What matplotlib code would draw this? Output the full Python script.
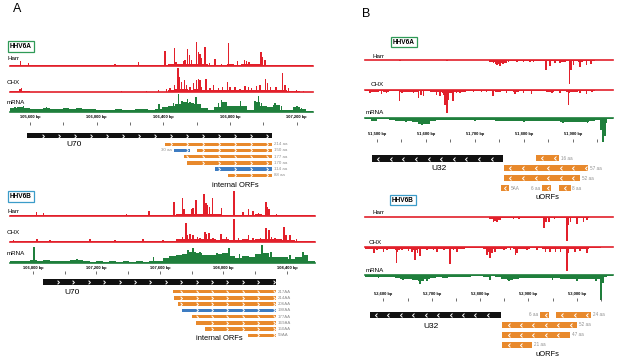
import numpy as np
import matplotlib.pyplot as plt
from matplotlib.path import Path

plt.rcParams['font.family'] = ['Liberation Sans', 'DejaVu Sans']

RED = '#e2202b'
GREEN = '#1f7f3c'
ORANGE = '#e8892c'
BLUE = '#3d7cc2'
GREY = '#8f8f8f'
W, H = 617, 360

# ---------------- panel A, HHV6A (U70) ----------------
a6a_lim = (105480, 107298)
a6a_ticks = [105600, 105800, 106000, 106200, 106400, 106600, 106800, 107000, 107200]
a6a_ticklabels = ['105,600 bp', '', '106,000 bp', '', '106,400 bp', '', '106,800 bp', '', '107,200 bp']

a6a_harr_bins = [0.4, 0.4, 0.4, 0.4, 0.4, 0.4, 0.4, 0.4, 0.4, 0.4, 0.4, 0.4, 0.4, 0.4, 0.4, 0.4,
                 0.4, 0.4, 0.4, 0.4, 0.4, 0.4, 0.4, 0.8, 1.5, 1.5, 2, 2, 2, 1.5, 1, 1, 1, 1.2,
                 1, 1.2, 1.5, 1.5, 1, 0.5, 0.4, 0.4, 0.4, 0.4, 0.4, 0.4]
a6a_harr_pos = [105544, 105590, 106110, 106250, 106410, 106466, 106475, 106520, 106530, 106544,
                106556, 106570, 106600, 106610, 106620, 106626, 106650, 106676, 106710, 106750,
                106790, 106844, 106886, 106900, 106914, 106938, 106986, 106996, 107010, 107126]
a6a_harr_h = [5, 2.3, 1.7, 3.3, 14.3, 17.3, 4, 5, 5.7, 17, 11, 6, 23.3, 14, 12, 8, 19, 2.3, 6.7,
              1.7, 22.3, 4.3, 5.7, 4.3, 3.3, 1.7, 13.3, 9, 5.7, 1]

a6a_chx_bins = [1, 1.2, 1, 0.6, 0.8, 0.5, 0.6, 0.6, 0.8, 0.6, 0.5, 0.6, 0.7, 0.6, 0.6, 0.5, 0.6,
                0.8, 0.6, 0.6, 0.5, 0.6, 0.7, 0.6, 2, 3, 3, 2.5, 3, 2.5, 2, 2.5, 2, 2.5, 2, 2.5,
                2, 2.5, 2.5, 2, 2.5, 2, 1.5, 1, 0.8, 0.6]
a6a_chx_pos = [105515, 105540, 105548, 106150, 106300, 106370, 106420, 106440, 106466, 106488,
               106496, 106510, 106526, 106540, 106560, 106580, 106600, 106610, 106620, 106630,
               106656, 106680, 106700, 106730, 106756, 106786, 106800, 106830, 106860, 106890,
               106910, 106930, 106960, 106980, 107014, 107024, 107044, 107076, 107116, 107130,
               107150, 107200, 107240]
a6a_chx_h = [1.5, 3, 4, 1, 1, 2, 3, 4, 7, 24, 15.7, 10.7, 12, 7, 5.7, 9, 12, 13, 12, 5.7, 13, 4,
             7.3, 4, 5, 10.7, 5.7, 5, 3, 6.3, 5.7, 4, 6.3, 7.3, 13, 9, 5.7, 5, 19.7, 7.3, 4,
             2.3, 1.3]

a6a_rna_bins = [4, 4.5, 3.5, 3, 3, 3.5, 2.5, 3, 3.5, 3, 3.5, 3, 2.5, 2, 2, 2, 2.5, 2, 2, 2.5,
                2.5, 2, 3, 5, 6, 8, 10, 9, 8, 4, 2, 5, 10, 6, 6, 6, 2, 10, 6, 5, 7, 2, 1.5, 5,
                3, 1]
a6a_rna_pos = [105510, 105560, 105700, 105880, 106374, 106460, 106490, 106512, 106544, 106560,
               106596, 106620, 106730, 106750, 106780, 106864, 106950, 106970, 106990, 107070,
               107110, 107202, 107230]
a6a_rna_h = [5, 6, 5, 4, 7.7, 9, 17.7, 11, 12.3, 10, 14.3, 8, 9, 11.7, 8, 11, 11, 15.7, 9, 8.3,
             6, 5.7, 4]

a6a_gene = (105582, 107052)
a6a_orf_start = [106410, 106464, 106602, 106521, 106542, 106710, 106788]
a6a_orf_end = [107052, 106560, 107052, 107052, 107052, 107052, 107052]
a6a_orf_row = [0, 1, 1, 2, 3, 4, 5]
a6a_orf_blue = [False, True, False, False, False, True, False]
a6a_orf_len = ['214 aa', '30 aa', '150 aa', '177 aa', '170 aa', '114 aa', '88 aa']
a6a_orf_left = [False, True, False, False, False, False, False]

# ---------------- panel A, HHV6B (U70) ----------------
a6b_lim = (106655, 108577)
a6b_ticks = [106800, 107000, 107200, 107400, 107600, 107800, 108000, 108200, 108400]
a6b_ticklabels = ['106,800 bp', '', '107,200 bp', '', '107,600 bp', '', '108,000 bp', '', '108,400 bp']

a6b_harr_bins = [0.4, 0.4, 0.4, 0.4, 0.4, 0.4, 0.4, 0.4, 0.4, 0.4, 0.4, 0.4, 0.4, 0.4, 0.4, 0.4,
                 0.4, 0.4, 0.4, 0.4, 0.4, 0.4, 0.4, 0.4, 0.8, 1.5, 2, 1.5, 2, 2, 1.5, 1.5, 1.2,
                 1, 1.2, 1, 1, 1.5, 1.2, 0.8, 0.4, 0.4, 0.4, 0.4, 0.4, 0.4]
a6b_harr_pos = [106823, 106865, 107390, 107531, 107690, 107743, 107753, 107800, 107810, 107827,
                107879, 107890, 107898, 107911, 107932, 107989, 108068, 108125, 108157, 108188,
                108220, 108268, 108278, 108289, 108335, 108482]
a6b_harr_h = [4, 2.3, 1.3, 4.7, 14, 18, 7, 6.7, 7.3, 15.7, 21.3, 12.3, 10.7, 9, 18, 8, 24.7, 4,
              6.7, 4.7, 2.3, 13.3, 9, 6.7, 1.3, 0.7]

a6b_chx_bins = [0.7, 0.8, 0.6, 0.7, 0.9, 0.6, 0.7, 0.7, 0.6, 0.8, 0.7, 0.6, 0.7, 0.8, 0.6, 0.7,
                0.7, 0.6, 0.8, 0.7, 0.6, 0.7, 0.8, 0.7, 0.9, 2.5, 3, 3, 2.5, 3, 2.5, 2, 2.5, 2,
                2, 2.5, 2, 2.5, 3, 2.5, 2.5, 2, 1.5, 1, 0.8, 0.6]
a6b_chx_pos = [106676, 106827, 106907, 107159, 107317, 107495, 107621, 107743, 107764, 107774,
               107789, 107810, 107837, 107852, 107884, 107894, 107909, 107936, 107984, 108020,
               108068, 108094, 108157, 108188, 108234, 108268, 108289, 108304, 108325, 108383,
               108394, 108419, 108461, 108524]
a6b_chx_h = [1.7, 2.3, 1.3, 2.7, 1.7, 2.7, 1.7, 5, 18.3, 6.7, 7.3, 6.7, 5, 4, 10, 7.3, 8.3, 4,
             7.3, 5, 22.3, 3.3, 6.7, 4, 4, 13.3, 11.7, 5, 3.3, 15, 6.7, 6.7, 2.3, 1]

a6b_rna_bins = [2.5, 2.5, 2, 3, 2.5, 3, 2.5, 2, 2.5, 3.5, 3, 2, 1.5, 2, 1.5, 2, 1.5, 2, 1.5, 2,
                1.5, 2, 2, 5, 7, 8, 9, 11, 10, 8, 8, 9, 10, 7, 5, 7, 6, 9, 10, 6, 6, 6, 4, 6,
                8, 2]
a6b_rna_pos = [106808, 107077, 107560, 107777, 107808, 107852, 107959, 108035, 108100, 108243,
               108300, 108420, 108501]
a6b_rna_h = [16, 4.3, 6, 13.3, 15, 11.7, 10, 15, 9, 18.3, 11, 8, 11.7]

a6b_gene = (106863, 108331)
a6b_orf_start = [107680, 107689, 107713, 107737, 107800, 107824, 107881, 108154]
a6b_orf_end = [108331, 108331, 108331, 108331, 108331, 108331, 108331, 108331]
a6b_orf_row = [0, 1, 2, 3, 4, 5, 6, 7]
a6b_orf_blue = [False, False, False, True, False, False, False, False]
a6b_orf_len = ['217AA', '214AA', '206AA', '198AA', '177AA', '169AA', '150AA', '59AA']
a6b_orf_left = [False] * 8

# ---------------- panel B, HHV6A (U32) ----------------
b6a_lim = (51476, 51982)
b6a_ticks = [51500, 51550, 51600, 51650, 51700, 51750, 51800, 51850, 51900, 51950]
b6a_ticklabels = ['51,500 bp', '', '51,600 bp', '', '51,700 bp', '', '51,800 bp', '', '51,900 bp', '']

b6a_harr_bins = [0.3, 0.3, 0.3, 0.3, 0.3, 0.3, 0.3, 0.3, 0.3, 0.3, 0.3, 0.3, 0.3, 0.3, 0.3, 0.3,
                 0.3, 0.3, 0.3, 0.3, 0.3, 1.5, 3.5, 3, 1, 0.8, 1, 0.8, 0.8, 1, 0.8, 0.8, 1, 1.5,
                 1.2, 1, 1.5, 1, 1, 0.3, 0.3, 0.3]
b6a_harr_pos = [51548, 51643, 51738, 51745, 51752, 51758, 51769, 51786, 51799, 51813, 51820,
                51845, 51854, 51864, 51874, 51893, 51896, 51901, 51915, 51928, 51937]
b6a_harr_h = [1, 1, 3.3, 5, 6, 4, 2, 1.7, 2.3, 2, 1.7, 10, 6, 2.7, 2.7, 24, 10, 5, 7.3, 5, 4]

b6a_chx_bins = [1.5, 2, 1.5, 2, 1.5, 1.2, 2, 2.5, 2, 1.5, 1.5, 2, 2.5, 3, 3, 2.5, 2, 1.5, 1.2,
                1.2, 1.5, 1.5, 2, 1.5, 1.5, 2, 1.5, 1.5, 1.5, 1.2, 1.5, 2, 1.5, 1.5, 2, 2, 1.5,
                1.5, 1.2, 0.6, 0.5, 0.5]
b6a_chx_pos = [51486, 51503, 51510, 51520, 51546, 51551, 51575, 51585, 51590, 51595, 51622,
               51629, 51636, 51639, 51643, 51646, 51656, 51663, 51670, 51680, 51697, 51714,
               51724, 51737, 51745, 51765, 51782, 51799, 51816, 51847, 51857, 51874, 51891,
               51893, 51901, 51915, 51928, 51939]
b6a_chx_h = [3.3, 2.7, 4, 3.3, 11, 3.3, 3.3, 8.3, 5, 6.7, 5, 6.7, 5, 15, 23.3, 10, 11.7, 3.3,
             3.3, 2.7, 2.7, 2.7, 2.7, 6.7, 2.7, 3.3, 4.3, 3.3, 4.3, 2.7, 3.3, 3.3, 15, 3.3, 2.7,
             3.3, 4.3, 2.7]

b6a_rna_bins = [1.7, 3, 1.7, 1.5, 2, 3, 3, 3, 4, 6, 6, 3, 2.3, 2, 2.5, 2, 2, 2.5, 2, 2, 2.5, 2,
                3, 3, 3, 3.5, 3, 3, 3.5, 3, 3, 3.5, 3, 4, 4, 4.5, 4, 4, 3.5, 2.5, 5, 1]
b6a_rna_pos = [51490, 51560, 51588, 51592, 51600, 51700, 51800, 51880, 51930, 51958, 51962, 51966]
b6a_rna_h = [3, 4.5, 6, 7.3, 5.5, 3.5, 4.5, 5, 5.5, 12, 24, 18]

b6a_gene = (51490, 51758)
b6a_orf_start = [51825, 51760, 51760, 51754, 51837, 51872]
b6a_orf_end = [51872, 51931, 51915, 51770, 51856, 51896]
b6a_orf_row = [0, 1, 2, 3, 3, 3]
b6a_orf_len = ['16 aa', '57 aa', '52 aa', '5AA', '6 aa', '8 aa']
b6a_orf_left = [False, False, False, False, True, False]

# ---------------- panel B, HHV6B (U32) ----------------
b6b_lim = (52562, 53075)
b6b_ticks = [52600, 52650, 52700, 52750, 52800, 52850, 52900, 52950, 53000, 53050]
b6b_ticklabels = ['52,600 bp', '', '52,700 bp', '', '52,800 bp', '', '52,900 bp', '', '53,000 bp', '']

b6b_harr_bins = [0.3, 0.3, 0.3, 0.3, 0.3, 0.3, 0.3, 0.3, 0.3, 0.3, 0.3, 0.3, 0.3, 0.3, 0.3, 0.3,
                 0.3, 0.3, 0.3, 0.3, 0.3, 2, 3.5, 1, 1, 0.8, 0.8, 1, 0.8, 0.8, 1, 1.5, 1.2, 1,
                 1.2, 1.5, 1, 1, 0.3, 0.3, 0.3, 0.3]
b6b_harr_pos = [52628, 52666, 52731, 52828, 52831, 52835, 52838, 52869, 52880, 52890, 52904,
                52932, 52936, 52942, 52954, 52980, 52983, 52987, 53001, 53014, 53021]
b6b_harr_h = [0.7, 0.7, 0.7, 5, 4.3, 5.7, 3.3, 2.3, 2.3, 1.7, 1.7, 11, 5, 5, 2.3, 24.3, 8.3, 5,
              7.7, 5, 3.3]

b6b_chx_bins = [2.5, 2, 2.5, 2, 2, 3, 2.5, 2.5, 3, 2.5, 2, 2, 2, 2.5, 2, 2, 2, 1.5, 1.5, 1.5,
                2, 2.5, 2.5, 2, 1.5, 2, 2.5, 2, 1.5, 1.5, 2, 2, 2.5, 2.5, 2, 2, 2, 2, 1.5, 0.8,
                0.6, 0.5]
b6b_chx_pos = [52580, 52587, 52600, 52607, 52627, 52629, 52638, 52652, 52659, 52666, 52671,
               52676, 52690, 52704, 52711, 52725, 52738, 52745, 52752, 52814, 52818, 52821,
               52825, 52831, 52849, 52863, 52873, 52876, 52897, 52918, 52935, 52945, 52956,
               52966, 52980, 52983, 52997, 53007, 53021]
b6b_chx_h = [6.7, 3.3, 5, 3.3, 16.7, 5, 3.3, 4.3, 5, 13.3, 6.7, 9, 3.3, 3.3, 5, 3.3, 17.7, 3.3,
             5, 8.3, 5, 11.7, 6.7, 5, 3.3, 3.3, 8.3, 6.7, 3.3, 3.3, 5, 5, 5, 5, 24.3, 6.7, 5,
             4.3, 6.7]

b6b_rna_bins = [1.7, 1.7, 2, 1.7, 2, 3, 4, 4, 5, 6, 3.5, 2.5, 2, 2.5, 2, 2, 2, 1.5, 1, 1, 1.5,
                1, 2, 4, 4.5, 4, 3, 3, 2.5, 3, 3, 3, 3, 3.5, 4, 4, 4, 3.5, 4, 4, 2, 1]
b6b_rna_pos = [52590, 52640, 52676, 52690, 52820, 52860, 52950, 53000, 53040, 53050, 53054]
b6b_rna_h = [3, 5, 9.3, 6, 5, 6, 5, 5.5, 6, 25, 8]

b6b_gene = (52572, 52843)
b6b_orf_start = [52924, 52957, 52846, 52846, 52846]
b6b_orf_end = [52943, 53030, 53001, 52987, 52908]
b6b_orf_row = [0, 0, 1, 2, 3]
b6b_orf_len = ['6 aa', '24 aa', '52 aa', '47 aa', '21 aa']
b6b_orf_left = [True, False, False, False, False]


fig = plt.figure(figsize=(W / 100, H / 100), dpi=100)


def add_ax(x0, x1, ytop, ybot):
    ax = fig.add_axes([x0 / W, 1 - ybot / H, (x1 - x0) / W, (ybot - ytop) / H])
    ax.set_axis_off()
    return ax


def ftext(x, y, s, **kw):
    kw.setdefault('ha', 'center')
    kw.setdefault('va', 'center')
    fig.text(x / W, 1 - y / H, s, **kw)


def track(x0, x1, base, lim, bins, pos, h, color, down=False):
    if down:
        ax = add_ax(x0, x1, base, base + 26)
        ax.set_ylim(26, 0)
    else:
        ax = add_ax(x0, x1, base - 26, base)
        ax.set_ylim(0, 26)
    ax.set_xlim(lim)
    edges = np.linspace(lim[0], lim[1], len(bins) + 1)
    ax.stairs(bins, edges, fill=True, color=color, lw=0)
    bw = 1.6 * (lim[1] - lim[0]) / (x1 - x0)
    ax.bar(pos, h, width=bw, color=color, lw=0)
    ax.axhline(0, color=color, lw=1.2, clip_on=False)


def ruler(x0, x1, lim, ticks, labels, ylab, ytick):
    ax = add_ax(x0, x1, ylab - 4, ytick + 5)
    ax.set_xlim(lim)
    ax.set_ylim(ytick + 5, ylab - 4)
    ax.vlines(ticks, ytick, ytick + 3.5, color='#555555', lw=0.6)
    for t, s in zip(ticks, labels):
        if s:
            ax.text(t, ylab, s, ha='center', va='center', fontsize=2.9, fontweight='bold')


def chevrons(ax, s, e, y, sp, off, marker, ms, grid=None):
    if grid is None:
        xs = np.arange(s + sp * off, e - sp * 0.15, sp)
    else:
        xs = grid[(grid > s + sp * 0.15) & (grid < e - sp * 0.1)]
    if len(xs) == 0:
        xs = [(s + e) / 2]
    ax.plot(xs, [y] * len(xs), ls='none', marker=marker, ms=ms, mfc='none',
            mec='white', mew=0.7)


CHEV_R = Path([(-0.5, 1), (0.5, 0), (-0.5, -1)])
CHEV_L = Path([(0.5, 1), (-0.5, 0), (0.5, -1)])


def features_a(x0, x1, lim, gene, gy, starts, ends, rows, blue, lens, left, r0, dr, sp):
    ax = add_ax(x0, x1, gy - 6, r0 + dr * max(rows) + 4)
    ax.set_xlim(lim)
    ax.set_ylim(r0 + dr * max(rows) + 4, gy - 6)
    ax.barh(gy, gene[1] - gene[0], left=gene[0], height=5.5, color='#111111')
    grid = np.arange(gene[0] + sp * 0.98, gene[1] - sp * 0.1, sp)
    chevrons(ax, gene[0], gene[1], gy, sp, 0.98, CHEV_R, 2.6, grid)
    px = (lim[1] - lim[0]) / (x1 - x0)
    for s, e, r, b, t, lft in zip(starts, ends, rows, blue, lens, left):
        y = r0 + dr * r
        ax.barh(y, e - s, left=s, height=3.4, color=BLUE if b else ORANGE)
        chevrons(ax, s, e, y, sp, 0.98, CHEV_R, 2.6, grid)
        if lft:
            ax.text(s - 2 * px, y, t, ha='right', va='center', fontsize=3.2, color=GREY)
        else:
            ax.text(e + 1.5 * px, y, t, ha='left', va='center', fontsize=3.2, color=GREY)


def features_b(x0, x1, lim, gene, gy, starts, ends, rows, lens, left, r0, dr, sp):
    ax = add_ax(x0, x1, gy - 6, r0 + dr * max(rows) + 5)
    ax.set_xlim(lim)
    ax.set_ylim(r0 + dr * max(rows) + 5, gy - 6)
    ax.barh(gy, gene[1] - gene[0], left=gene[0], height=6.5, color='#111111')
    chevrons(ax, gene[0], gene[1], gy, sp, 0.5, CHEV_L, 2.8)
    px = (lim[1] - lim[0]) / (x1 - x0)
    for s, e, r, t, lft in zip(starts, ends, rows, lens, left):
        y = r0 + dr * r
        ax.barh(y, e - s, left=s, height=6, color=ORANGE)
        chevrons(ax, s, e, y, sp, 0.5, CHEV_L, 2.8)
        if lft:
            ax.text(s - 2 * px, y, t, ha='right', va='center', fontsize=3.3, color=GREY)
        else:
            ax.text(e + 1.5 * px, y, t, ha='left', va='center', fontsize=3.3, color=GREY)


def virus_box(x, y, s, ec):
    ftext(x, y, s, fontsize=4.7, fontweight='bold',
          bbox=dict(boxstyle='square,pad=0.28', fc='white', ec=ec, lw=0.9))


def track_labels(xs, ys):
    for x, y, s in zip(xs, ys, ['Harr', 'CHX', 'mRNA']):
        ftext(x, y, s, fontsize=4.5, ha='left')


# panel A top
ftext(17, 9, 'A', fontsize=9)
virus_box(21, 46.5, 'HHV6A', '#2f9a57')
track_labels([7, 7, 7], [59, 82, 102])
track(10, 313, 65.5, a6a_lim, a6a_harr_bins, a6a_harr_pos, a6a_harr_h, RED)
track(10, 313, 92.3, a6a_lim, a6a_chx_bins, a6a_chx_pos, a6a_chx_h, RED)
track(10, 313, 111.7, a6a_lim, a6a_rna_bins, a6a_rna_pos, a6a_rna_h, GREEN)
ruler(10, 313, a6a_lim, a6a_ticks, a6a_ticklabels, 117, 121.5)
features_a(10, 313, a6a_lim, a6a_gene, 135.5, a6a_orf_start, a6a_orf_end, a6a_orf_row,
           a6a_orf_blue, a6a_orf_len, a6a_orf_left, 144.3, 6.18, 96)
ftext(74, 145, 'U70', fontsize=6)
ftext(235, 185.5, 'internal ORFs', fontsize=5.4)

# panel A bottom
virus_box(21, 196.5, 'HHV6B', '#3b9cc9')
track_labels([7, 7, 7], [211.5, 233, 253.5])
track(10, 315, 215.7, a6b_lim, a6b_harr_bins, a6b_harr_pos, a6b_harr_h, RED)
track(10, 315, 241.7, a6b_lim, a6b_chx_bins, a6b_chx_pos, a6b_chx_h, RED)
track(10, 315, 263.3, a6b_lim, a6b_rna_bins, a6b_rna_pos, a6b_rna_h, GREEN)
ruler(10, 315, a6b_lim, a6b_ticks, a6b_ticklabels, 267.5, 270.5)
features_a(10, 315, a6b_lim, a6b_gene, 282, a6b_orf_start, a6b_orf_end, a6b_orf_row,
           a6b_orf_blue, a6b_orf_len, a6b_orf_left, 291.7, 6.23, 97)
ftext(72, 292, 'U70', fontsize=6)
ftext(219, 338.5, 'internal ORFs', fontsize=5.4)

# panel B top
ftext(366, 14, 'B', fontsize=9)
virus_box(404, 42, 'HHV6A', '#2f9a57')
track_labels([372, 371, 366], [56, 85, 113])
track(365, 613, 60, b6a_lim, b6a_harr_bins, b6a_harr_pos, b6a_harr_h, RED, down=True)
track(365, 613, 89.5, b6a_lim, b6a_chx_bins, b6a_chx_pos, b6a_chx_h, RED, down=True)
track(365, 613, 117.7, b6a_lim, b6a_rna_bins, b6a_rna_pos, b6a_rna_h, GREEN, down=True)
ruler(365, 613, b6a_lim, b6a_ticks, b6a_ticklabels, 134, 138.5)
features_b(365, 613, b6a_lim, b6a_gene, 158.5, b6a_orf_start, b6a_orf_end, b6a_orf_row,
           b6a_orf_len, b6a_orf_left, 158.3, 10, 25.7)
ftext(439, 168.5, 'U32', fontsize=6)
ftext(547, 197.5, 'uORFs', fontsize=5.4)

# panel B bottom
virus_box(403, 200, 'HHV6B', '#3b9cc9')
track_labels([372, 369, 366], [212, 242, 270])
track(365, 613, 216.7, b6b_lim, b6b_harr_bins, b6b_harr_pos, b6b_harr_h, RED, down=True)
track(365, 613, 246.7, b6b_lim, b6b_chx_bins, b6b_chx_pos, b6b_chx_h, RED, down=True)
track(365, 613, 275, b6b_lim, b6b_rna_bins, b6b_rna_pos, b6b_rna_h, GREEN, down=True)
ruler(365, 613, b6b_lim, b6b_ticks, b6b_ticklabels, 293.5, 297.5)
features_b(365, 613, b6b_lim, b6b_gene, 315, b6b_orf_start, b6b_orf_end, b6b_orf_row,
           b6b_orf_len, b6b_orf_left, 315, 10, 25.7)
ftext(431, 326.5, 'U32', fontsize=6)
ftext(547, 354.5, 'uORFs', fontsize=5.4)

fig.savefig('out.png', dpi=100)
